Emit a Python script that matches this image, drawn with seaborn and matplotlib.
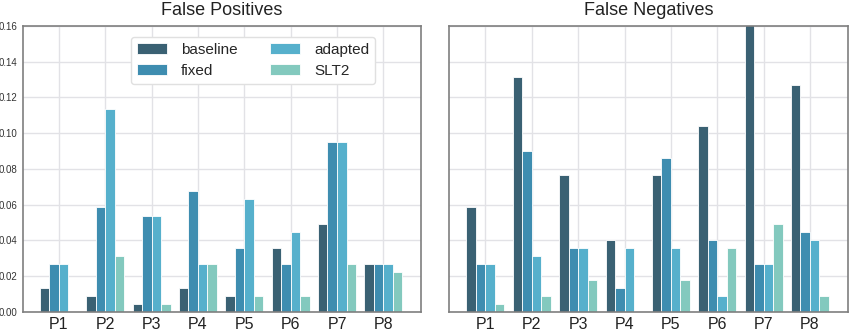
import numpy as np
import pandas as pd
import matplotlib
matplotlib.use("Agg")
import matplotlib.pyplot as plt
import seaborn as sns

# Error rates per participant for each method
participants = ["P1", "P2", "P3", "P4", "P5", "P6", "P7", "P8"]
methods = ["baseline", "fixed", "adapted", "SLT2"]

fp_baseline = [0.0134, 0.0088, 0.0043, 0.0134, 0.0088, 0.0359, 0.0495, 0.0268]
fp_fixed    = [0.0268, 0.0587, 0.0538, 0.0678, 0.0359, 0.0268, 0.0952, 0.0268]
fp_adapted  = [0.0268, 0.1134, 0.0538, 0.0268, 0.0633, 0.0449, 0.0952, 0.0268]
fp_slt2     = [0.0000, 0.0315, 0.0043, 0.0268, 0.0088, 0.0088, 0.0268, 0.0224]

fn_baseline = [0.0587, 0.1315, 0.0767, 0.0404, 0.0767, 0.1041, 0.1620, 0.1270]
fn_fixed    = [0.0268, 0.0903, 0.0359, 0.0134, 0.0859, 0.0404, 0.0268, 0.0449]
fn_adapted  = [0.0268, 0.0315, 0.0359, 0.0359, 0.0359, 0.0088, 0.0268, 0.0404]
fn_slt2     = [0.0043, 0.0088, 0.0179, 0.0000, 0.0179, 0.0359, 0.0495, 0.0088]

palette = ["#3a6173", "#3e8db0", "#56b0cc", "#83c9be"]


def to_long(series):
    rows = []
    for method, vals in zip(methods, series):
        for p, v in zip(participants, vals):
            rows.append({"participant": p, "method": method, "rate": v})
    return pd.DataFrame(rows)


fp_df = to_long([fp_baseline, fp_fixed, fp_adapted, fp_slt2])
fn_df = to_long([fn_baseline, fn_fixed, fn_adapted, fn_slt2])

sns.set_style("white", {"axes.edgecolor": "#7f7f7f", "grid.color": "#e4e4e8"})
plt.rcParams["font.family"] = ["Liberation Sans", "DejaVu Sans"]

fig, axes = plt.subplots(1, 2, figsize=(8.5, 3.29), dpi=100, sharey=True)
fig.subplots_adjust(left=0.0267, right=0.9976, top=0.921, bottom=0.0517, wspace=0.07)

for ax, df, title in zip(axes, [fp_df, fn_df], ["False Positives", "False Negatives"]):
    sns.barplot(data=df, x="participant", y="rate", hue="method",
                hue_order=methods, order=participants, palette=palette,
                width=0.82, edgecolor="white", linewidth=0.6,
                saturation=1, ax=ax, legend=(ax is axes[0]))
    ax.set_ylim(0, 0.16)
    ax.set_xlim(-0.78, 7.82)
    ax.set_yticks(np.arange(0, 0.161, 0.02))
    ax.yaxis.set_major_formatter(matplotlib.ticker.FormatStrFormatter("%.2f"))
    ax.grid(True, color="#e2e2e6", linewidth=1.0)
    ax.set_axisbelow(True)
    ax.set_xlabel("")
    ax.set_ylabel("")
    ax.set_title(title, fontsize=13, pad=8, color="#222222")
    ax.tick_params(axis="x", labelsize=11.5, pad=3.5, length=0, colors="#222222")
    ax.tick_params(axis="y", labelsize=7, pad=4, length=0, colors="#333333")
    for s in ax.spines.values():
        s.set_linewidth(1.2)
        s.set_color("#7f7f7f")

leg = axes[0].legend(loc="upper left", bbox_to_anchor=(0.271, 0.962),
                     borderaxespad=0, ncol=2, fontsize=11,
                     handlelength=2.0, handleheight=0.7, handletextpad=0.9,
                     columnspacing=2.1, labelspacing=0.45, frameon=True,
                     fancybox=True)
leg.get_frame().set_edgecolor("#e0e0e0")
leg.get_frame().set_alpha(1)

fig.savefig("out.png", dpi=100)
